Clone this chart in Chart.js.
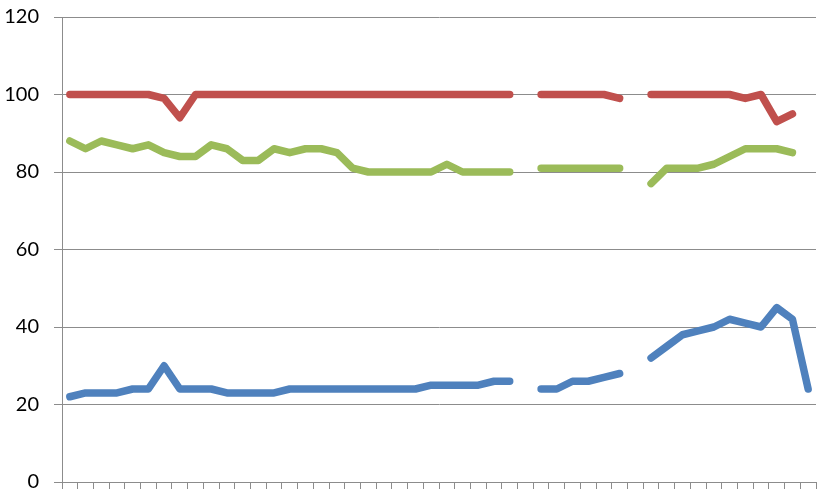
<!DOCTYPE html>
<html>
<head>
<meta charset="utf-8">
<script src="https://cdn.jsdelivr.net/npm/chart.js@4"></script>
<style>
    html, body { margin: 0; padding: 0; background: #fff; }
    #wrap { width: 826px; height: 494px; position: relative; }
</style>
</head>
<body>
<div id="wrap"><canvas id="chart"></canvas></div>
<script>
// 48 categories, no visible labels
const categories = Array.from({ length: 48 }, (_, i) => String(i + 1));

const yTicks = [0, 20, 40, 60, 80, 100, 120];

// Red series
const redValues = [
    100, 100, 100, 100, 100, 100, 99, 94, 100, 100,
    100, 100, 100, 100, 100, 100, 100, 100, 100, 100,
    100, 100, 100, 100, 100, 100, 100, 100, 100, null,
    100, 100, 100, 100, 100, 99, null,
    100, 100, 100, 100, 100, 100, 99, 100, 93, 95, null
];

// Green series
const greenValues = [
    88, 86, 88, 87, 86, 87, 85, 84, 84, 87,
    86, 83, 83, 86, 85, 86, 86, 85, 81, 80,
    80, 80, 80, 80, 82, 80, 80, 80, 80, null,
    81, 81, 81, 81, 81, 81, null,
    77, 81, 81, 81, 82, 84, 86, 86, 86, 85, null
];

// Blue series
const blueValues = [
    22, 23, 23, 23, 24, 24, 30, 24, 24, 24,
    23, 23, 23, 23, 24, 24, 24, 24, 24, 24,
    24, 24, 24, 25, 25, 25, 25, 26, 26, null,
    24, 24, 26, 26, 27, 28, null,
    32, 35, 38, 39, 40, 42, 41, 40, 45, 42, 24
];

function lineSet(data, color) {
    return {
        data: data,
        borderColor: color,
        backgroundColor: color,
        borderWidth: 7.5,
        borderCapStyle: 'round',
        borderJoinStyle: 'round',
        pointRadius: 0,
        pointHoverRadius: 0,
        tension: 0,
        spanGaps: false,
        fill: false
    };
}

const ctx = document.getElementById('chart').getContext('2d');
new Chart(ctx, {
    type: 'line',
    data: {
        labels: categories,
        datasets: [
            lineSet(blueValues, '#4F81BD'),
            lineSet(redValues, '#C0504D'),
            lineSet(greenValues, '#9BBB59')
        ]
    },
    options: {
        responsive: true,
        maintainAspectRatio: false,
        animation: false,
        layout: {
            autoPadding: false,
            padding: { top: 17, right: 10, left: 0, bottom: 0 }
        },
        scales: {
            x: {
                offset: true,
                grid: {
                    offset: true,
                    drawOnChartArea: false,
                    drawTicks: true,
                    tickLength: 7,
                    color: '#8c8c8c'
                },
                border: { color: '#8c8c8c', width: 1 },
                ticks: { display: false, autoSkip: false },
                afterFit: (scale) => {
                    scale.height = 12;
                    scale.paddingLeft = 0;
                    scale.paddingRight = 0;
                }
            },
            y: {
                min: 0,
                max: 120,
                afterBuildTicks: (scale) => {
                    scale.ticks = yTicks.map(v => ({ value: v }));
                },
                grid: {
                    color: '#8c8c8c',
                    lineWidth: 1,
                    tickLength: 8
                },
                border: { color: '#8c8c8c', width: 1 },
                ticks: {
                    color: '#000',
                    padding: 15,
                    font: { family: 'Lato', size: 20 }
                },
                afterFit: (scale) => {
                    scale.width = 62;
                    scale.paddingTop = 0;
                    scale.paddingBottom = 0;
                }
            }
        },
        plugins: {
            legend: { display: false },
            tooltip: { enabled: false }
        }
    }
});
</script>
</body>
</html>
